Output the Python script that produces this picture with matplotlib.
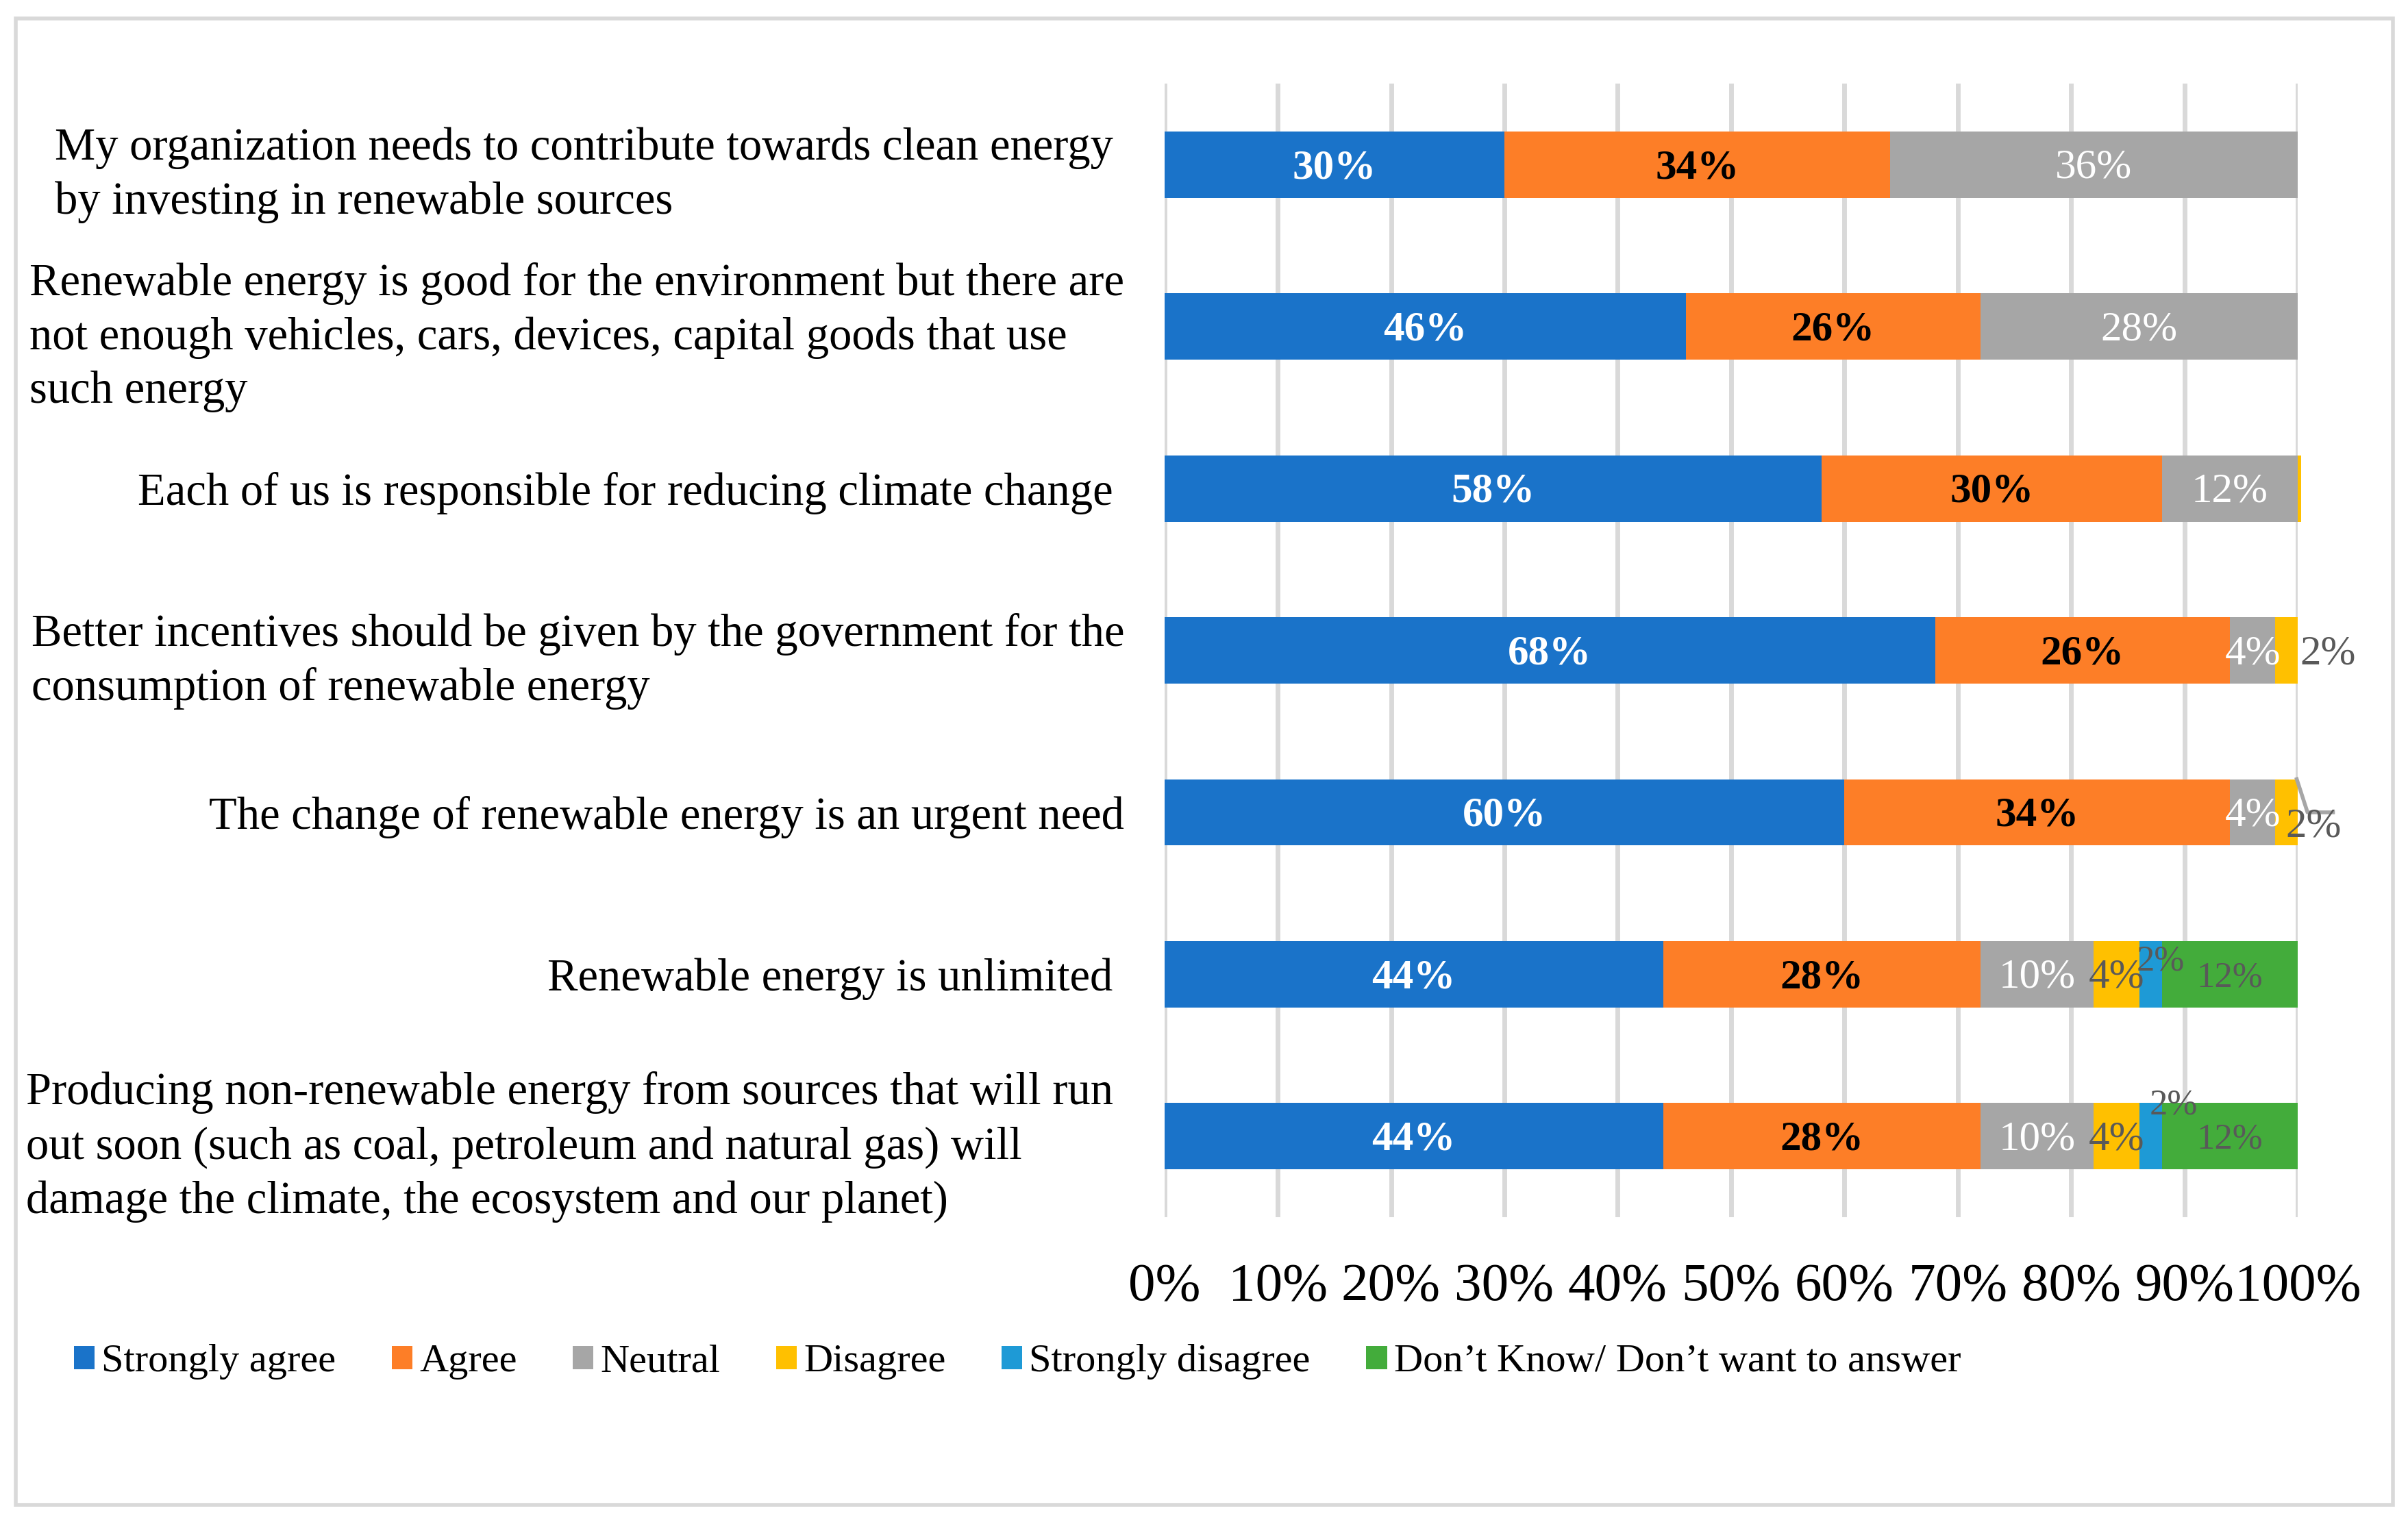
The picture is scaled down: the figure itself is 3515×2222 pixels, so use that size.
import matplotlib
matplotlib.use("Agg")
from matplotlib import pyplot as plt
from matplotlib.patches import Rectangle, Patch

plt.rcParams['font.family'] = ['Liberation Serif', 'DejaVu Serif']

# Statements (top to bottom) and answer categories
statements = [
    "My organization needs to contribute towards clean energy \nby investing in renewable sources",
    "Renewable energy is good for the environment but there are\nnot enough vehicles, cars, devices, capital goods that use\nsuch energy",
    "Each of us is responsible for reducing climate change ",
    "Better incentives should be given by the government for the\nconsumption of renewable energy",
    "The change of renewable energy is an urgent need",
    "Renewable energy is unlimited ",
    "Producing non-renewable energy from sources that will run \nout soon (such as coal, petroleum and natural gas) will\ndamage the climate, the ecosystem and our planet)",
]
responses = ["Strongly agree", "Agree", "Neutral", "Disagree", "Strongly disagree",
             "Don\u2019t Know/ Don\u2019t want to answer"]

# Shares in percent, one list per answer
strongly_agree = [30, 46, 58, 68, 60, 44, 44]
agree = [34, 26, 30, 26, 34, 28, 28]
neutral = [36, 28, 12, 4, 4, 10, 10]
disagree = [0, 0, 0.3, 2, 2, 4, 4]
strongly_disagree = [0, 0, 0, 0, 0, 2, 2]
dont_know = [0, 0, 0, 0, 0, 12, 12]

x_ticks = [0, 10, 20, 30, 40, 50, 60, 70, 80, 90, 100]

series = [strongly_agree, agree, neutral, disagree, strongly_disagree, dont_know]
colors = ['#1A73C9', '#FD7E27', '#A6A6A6', '#FFC000', '#1E9AD6', '#43AC3B']
# label style per series: colour, weight, size
label_style = [('white', 'bold', 22), ('black', 'bold', 22), ('white', 'normal', 22),
               ('#595959', 'normal', 22), ('#595959', 'normal', 19), ('#595959', 'normal', 19)]

fig = plt.figure(figsize=(17.58, 11.11), dpi=200)
ax = fig.add_axes([0.4834, 0.2003, 0.4706, 0.7447])

bar_h = 0.41
rows = list(range(len(statements)))
left = [0.0] * len(statements)
for k, vals in enumerate(series):
    ax.barh(rows, vals, left=left, height=bar_h, color=colors[k], zorder=2, clip_on=False)
    col, wt, fs = label_style[k]
    for i, v in enumerate(vals):
        if v >= 1:
            xc = left[i] + v / 2
            yc = i + 0.02
            ha = 'center'
            if k == 3 and i == 3:
                # label outside to the right of the bar
                xc = left[i] + v + 0.2
                ha = 'left'
            elif k == 3 and i == 4:
                # label with a leader line
                end = left[i] + v
                ax.plot([end - 0.1, end + 0.85, end + 3.1], [i - bar_h / 2, i, i],
                        color='#A6A6A6', lw=2, zorder=3, clip_on=False)
                xc = end + 1.4
                yc = i + 0.09
            elif k == 4 and i == 5:
                xc += 0.9
                yc -= 0.1
            elif k == 4 and i == 6:
                xc += 2.0
                yc -= 0.21
            ax.text(xc, yc, f"{v:.0f}%", ha=ha, va='center', color=col,
                    fontweight=wt, fontsize=fs, zorder=4)
    left = [a + b for a, b in zip(left, vals)]

ax.set_xlim(0, 100)
ax.set_ylim(len(statements) - 0.5, -0.5)
ax.set_xticks(x_ticks)
ax.set_xticklabels([f"{t}%" for t in x_ticks], fontsize=28.5)
ax.set_yticks(rows)
ax.set_yticklabels(statements, fontsize=24, ha='right', multialignment='left',
                   linespacing=1.36)
ax.tick_params(axis='x', length=0, pad=24)
ax.tick_params(axis='y', length=0, pad=21)
ax.grid(axis='x', color='#D9D9D9', lw=2.5, zorder=0)
ax.grid(axis='y', visible=False)
ax.set_axisbelow(True)
for s in ax.spines.values():
    s.set_visible(False)

handles = [Patch(facecolor=c, edgecolor='none') for c in colors]
fig.legend(handles, responses, loc='center left', bbox_to_anchor=(0.0306, 0.1052),
           ncol=6, frameon=False, fontsize=21, handlelength=0.52, handleheight=0.52,
           handletextpad=0.17, columnspacing=1.40, borderpad=0, borderaxespad=0)

# outer chart border
fig.patches.append(Rectangle((0.0064, 0.0113), 0.9871, 0.9765, transform=fig.transFigure,
                             fill=False, ec='#D9D9D9', lw=2))

fig.savefig('out.png', dpi=200, facecolor='white')
